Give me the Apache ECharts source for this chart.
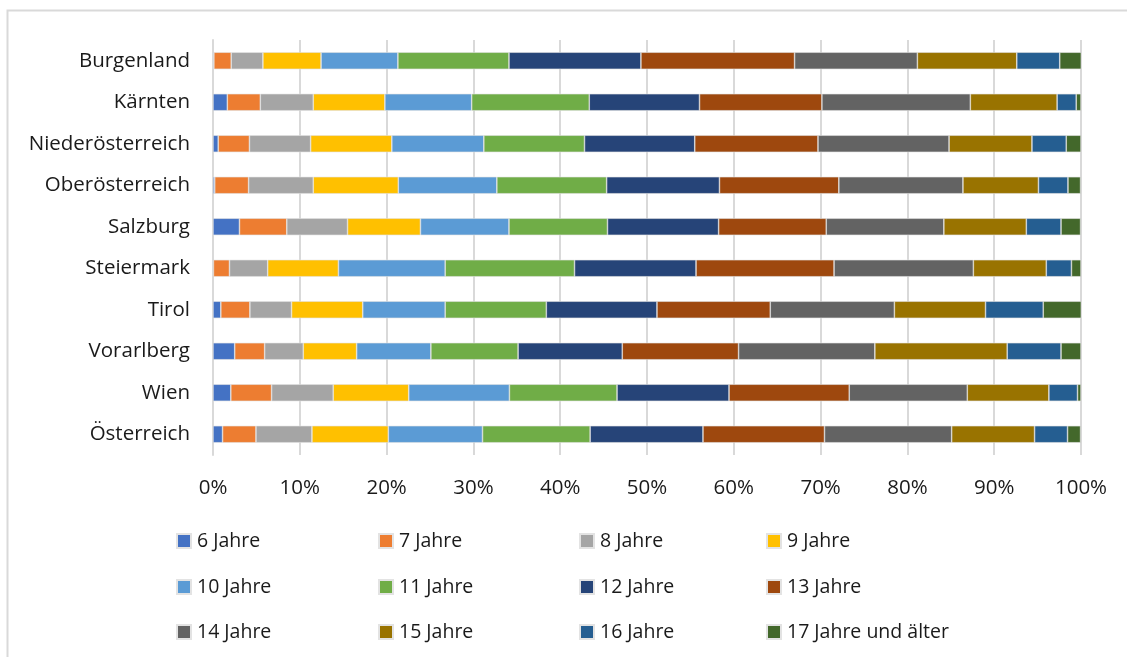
<!DOCTYPE html>
<html>
<head>
<meta charset="utf-8">
<title>Schüler nach Alter und Bundesland</title>
<script src="https://cdn.jsdelivr.net/npm/echarts@6/dist/echarts.min.js"></script>
<style>
	html, body { margin: 0; padding: 0; background: #fff; }
	#chart { width: 1127px; height: 657px; }
</style>
</head>
<body>
<div id="chart"></div>
<script>
// Bundesländer, von oben nach unten
const regions = ['Burgenland', 'Kärnten', 'Niederösterreich', 'Oberösterreich', 'Salzburg',
	'Steiermark', 'Tirol', 'Vorarlberg', 'Wien', 'Österreich'];

const ageGroups = ['6 Jahre', '7 Jahre', '8 Jahre', '9 Jahre', '10 Jahre', '11 Jahre',
	'12 Jahre', '13 Jahre', '14 Jahre', '15 Jahre', '16 Jahre', '17 Jahre und älter'];

// Anteile in % je Altersgruppe (Reihenfolge wie regions)
const age6  = [0.1, 1.65, 0.6, 0.2, 3.05, 0.05, 0.9, 2.5, 2.05, 1.1];
const age7  = [2.0, 3.8, 3.6, 3.9, 5.45, 1.85, 3.35, 3.45, 4.7, 3.85];
const age8  = [3.65, 6.1, 7.05, 7.45, 7.0, 4.4, 4.8, 4.45, 7.1, 6.45];
const age9  = [6.7, 8.25, 9.35, 9.8, 8.4, 8.15, 8.2, 6.15, 8.7, 8.8];
const age10 = [8.85, 10.0, 10.6, 11.35, 10.2, 12.3, 9.5, 8.55, 11.6, 10.85];
const age11 = [12.8, 13.55, 11.6, 12.65, 11.35, 14.9, 11.65, 10.05, 12.4, 12.4];
const age12 = [15.2, 12.7, 12.7, 13.0, 12.8, 14.0, 12.75, 12.0, 12.9, 13.0];
const age13 = [17.7, 14.1, 14.2, 13.75, 12.4, 15.9, 13.05, 13.4, 13.85, 14.0];
const age14 = [14.15, 17.1, 15.1, 14.3, 13.55, 16.05, 14.3, 15.7, 13.6, 14.65];
const age15 = [11.45, 10.0, 9.55, 8.7, 9.5, 8.4, 10.5, 15.25, 9.4, 9.55];
const age16 = [4.95, 2.2, 3.95, 3.4, 4.0, 2.9, 6.65, 6.2, 3.3, 3.8];
const age17 = [2.5, 0.55, 1.7, 1.45, 2.25, 1.1, 4.4, 2.3, 0.4, 1.5];

const seriesValues = [age6, age7, age8, age9, age10, age11, age12, age13, age14, age15, age16, age17];
const tickLabels = ['0%', '10%', '20%', '30%', '40%', '50%', '60%', '70%', '80%', '90%', '100%'];

const colors = ['#4472C4', '#ED7D31', '#A5A5A5', '#FFC000', '#5B9BD5', '#70AD47',
	'#264478', '#9E480E', '#636363', '#997300', '#255E91', '#43682B'];

const fontFamily = '"Open Sans", "Noto Sans", sans-serif';
const textColor = '#1a1a1a';

// Legende: 4 Spalten, 3 Zeilen, je Eintrag eine eigene Legende
const legendCols = [176, 378, 579, 766];
const legendRows = [538, 584, 629];
const legends = ageGroups.map(function (name, i) {
	return {
		left: legendCols[i % 4],
		top: legendRows[Math.floor(i / 4)] - 7,
		padding: 0,
		itemWidth: 14,
		itemHeight: 14,
		icon: 'rect',
		data: [name],
		textStyle: { fontFamily: fontFamily, fontSize: 19.5, color: textColor, padding: [0, 0, 0, 1] },
		selectedMode: false
	};
});

const series = ageGroups.map(function (name, i) {
	return {
		name: name,
		type: 'bar',
		stack: 'total',
		barWidth: 17,
		data: seriesValues[i],
		itemStyle: { color: colors[i], borderColor: '#e3e3e3', borderWidth: 0.6 },
		emphasis: { disabled: true }
	};
});

const chart = echarts.init(document.getElementById('chart'), null, { renderer: 'canvas' });
chart.setOption({
	animation: false,
	color: colors,
	grid: { left: 213, right: 46, top: 40, bottom: 202, containLabel: false },
	graphic: [{
		type: 'rect',
		shape: { x: 7.5, y: 10.5, width: 1200, height: 700 },
		style: { fill: 'none', stroke: '#d9d9d9', lineWidth: 2 },
		silent: true
	}],
	legend: legends,
	xAxis: {
		type: 'value',
		min: 0,
		max: 100,
		interval: 10,
		axisLine: { show: false },
		axisTick: { show: false },
		splitLine: { lineStyle: { color: '#d9d9d9', width: 2 } },
		axisLabel: {
			margin: 23,
			fontFamily: fontFamily,
			fontSize: 20.5,
			color: textColor,
			formatter: function (v) { return tickLabels[Math.round(v / 10)]; }
		}
	},
	yAxis: {
		type: 'category',
		inverse: true,
		data: regions,
		axisLine: { show: true, lineStyle: { color: '#d9d9d9', width: 2 } },
		axisTick: { show: false },
		axisLabel: { margin: 23, fontFamily: fontFamily, fontSize: 20.5, color: textColor }
	},
	series: series
});
</script>
</body>
</html>
